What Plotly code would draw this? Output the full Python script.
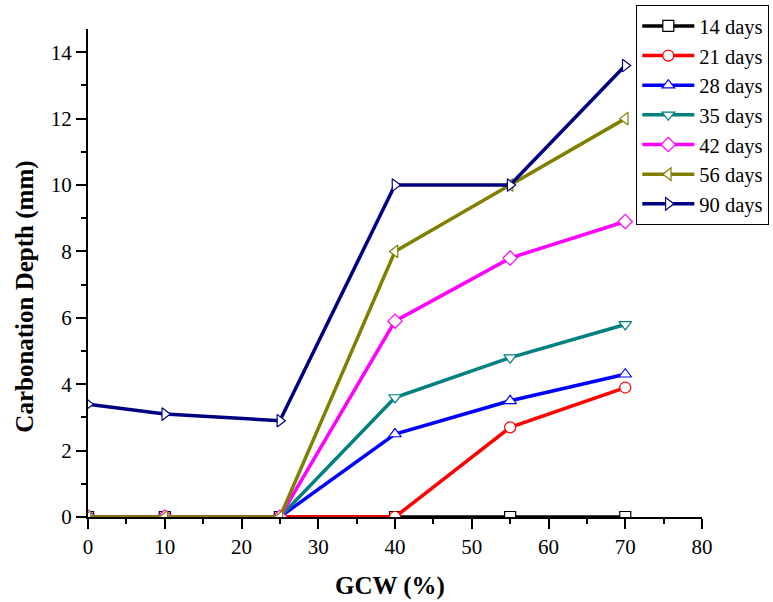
import plotly.graph_objects as go

gcw = [0, 10, 25, 40, 55, 70]
series_names = ["14 days", "21 days", "28 days", "35 days", "42 days", "56 days", "90 days"]
d14 = [0, 0, 0, 0, 0, 0]
d21 = [0, 0, 0, 0, 2.7, 3.9]
d28 = [0, 0, 0, 2.5, 3.5, 4.3]
d35 = [0, 0, 0, 3.6, 4.8, 5.8]
d42 = [0, 0, 0, 5.9, 7.8, 8.9]
d56 = [0, 0, 0, 8.0, 10.0, 12.0]
d90 = [3.4, 3.1, 2.9, 10.0, 10.0, 13.6]
values = [d14, d21, d28, d35, d42, d56, d90]
colors = ["#000000", "#FF0000", "#0000FF", "#008080", "#FF00FF", "#808000", "#000080"]
symbols = ["square", "circle", "triangle-up", "triangle-down", "diamond", "triangle-left", "triangle-right"]

FONT = "Liberation Serif, Times New Roman, serif"
fig = go.Figure()
for name, ys, c, s in zip(series_names, values, colors, symbols):
    fig.add_trace(go.Scatter(
        x=gcw, y=ys, name=name, mode="lines+markers",
        line=dict(color=c, width=3.5),
        marker=dict(symbol=s, size=11, color="white", line=dict(color=c, width=1.2)),
    ))

fig.update_layout(
    width=773, height=602,
    margin=dict(l=88, r=71, t=29, b=85, autoexpand=False),
    paper_bgcolor="white", plot_bgcolor="white",
    font=dict(family=FONT, size=21, color="black"),
    showlegend=True,
    legend=dict(
        x=0.893, y=1.049, xanchor="left", yanchor="top",
        bordercolor="black", borderwidth=1, bgcolor="white",
        font=dict(family=FONT, size=20.5), tracegroupgap=0,
        itemwidth=52,
    ),
    xaxis=dict(
        range=[0, 80], tickvals=[0, 10, 20, 30, 40, 50, 60, 70, 80],
        showgrid=False, zeroline=False, showline=True, linecolor="black", linewidth=2,
        ticks="outside", ticklen=10, tickwidth=2, tickcolor="black",
        minor=dict(tickvals=[5, 15, 25, 35, 45, 55, 65, 75], ticks="outside", ticklen=5, tickwidth=2, tickcolor="black"),
        tickfont=dict(family=FONT, size=21),
    ),
    yaxis=dict(
        range=[0, 14.7], tickvals=[0, 2, 4, 6, 8, 10, 12, 14],
        showgrid=False, zeroline=False, showline=True, linecolor="black", linewidth=2,
        ticks="outside", ticklen=10, tickwidth=2, tickcolor="black",
        minor=dict(tickvals=[1, 3, 5, 7, 9, 11, 13], ticks="outside", ticklen=5, tickwidth=2, tickcolor="black"),
        tickfont=dict(family=FONT, size=21),
    ),
    annotations=[
        dict(text="<b>GCW (%)</b>", xref="paper", yref="paper",
             x=(390 - 88) / 613.5, y=(517.5 - 587) / 488.5,
             xanchor="center", yanchor="middle", showarrow=False,
             font=dict(family=FONT, size=25)),
        dict(text="<b>Carbonation Depth (mm)</b>", xref="paper", yref="paper",
             x=(25 - 88) / 613.5, y=(517.5 - 297) / 488.5, textangle=-90,
             xanchor="center", yanchor="middle", showarrow=False,
             font=dict(family=FONT, size=25)),
    ],
)
fig.write_html("out.html")
